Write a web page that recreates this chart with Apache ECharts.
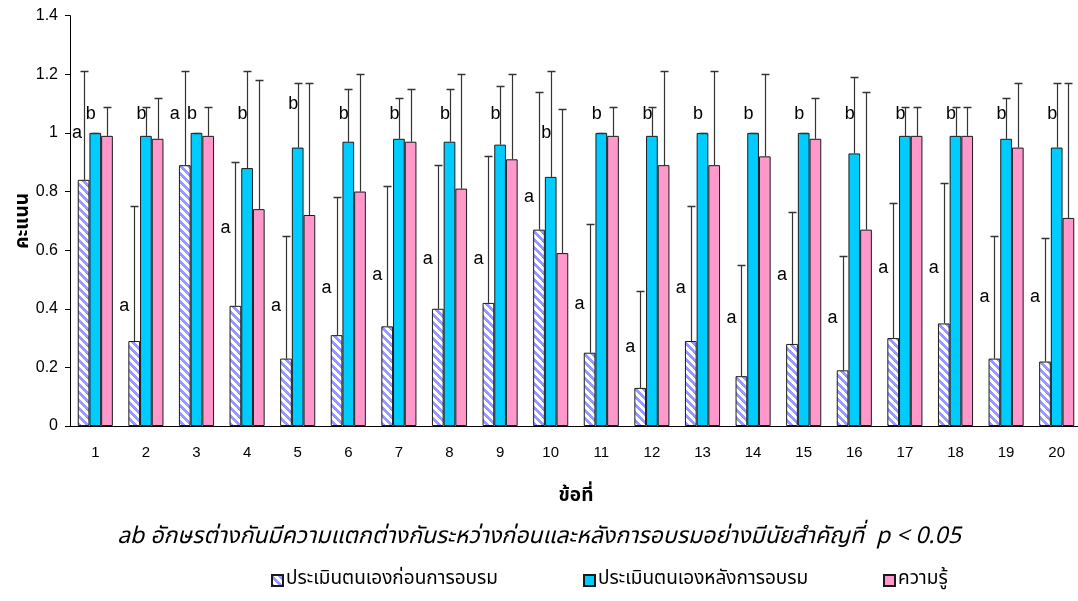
<!DOCTYPE html>
<html>
<head>
<meta charset="utf-8">
<script src="https://cdn.jsdelivr.net/npm/echarts@6/dist/echarts.min.js"></script>
<style>
  html, body { margin: 0; padding: 0; background: #ffffff; }
  #chart { width: 1078px; height: 601px; }
</style>
</head>
<body>
<div id="chart"></div>
<script>
// Items (x axis)
const categories = ['1','2','3','4','5','6','7','8','9','10','11','12','13','14','15','16','17','18','19','20'];

// Self-assessment before training: mean and SD
const beforeMean = [0.84,0.29,0.89,0.41,0.23,0.31,0.34,0.40,0.42,0.67,0.25,0.13,0.29,0.17,0.28,0.19,0.30,0.35,0.23,0.22];
const beforeSD   = [0.37,0.46,0.32,0.49,0.42,0.47,0.48,0.49,0.50,0.47,0.44,0.33,0.46,0.38,0.45,0.39,0.46,0.48,0.42,0.42];

// Self-assessment after training: mean and SD
const afterMean = [1.00,0.99,1.00,0.88,0.95,0.97,0.98,0.97,0.96,0.85,1.00,0.99,1.00,1.00,1.00,0.93,0.99,0.99,0.98,0.95];
const afterSD   = [0.00,0.10,0.00,0.33,0.22,0.18,0.14,0.18,0.20,0.36,0.00,0.10,0.00,0.00,0.00,0.26,0.10,0.10,0.14,0.22];

// Knowledge score: mean and SD
const knowMean = [0.99,0.98,0.99,0.74,0.72,0.80,0.97,0.81,0.91,0.59,0.99,0.89,0.89,0.92,0.98,0.67,0.99,0.99,0.95,0.71];
const knowSD   = [0.10,0.14,0.10,0.44,0.45,0.40,0.18,0.39,0.29,0.49,0.10,0.32,0.32,0.28,0.14,0.47,0.10,0.10,0.22,0.46];

// Significance letters and the score level each letter sits at
const letterA = 'a';
const letterB = 'b';
const letterAAt = [1.00,0.41,1.065,0.675,0.41,0.47,0.515,0.57,0.57,0.78,0.415,0.27,0.47,0.37,0.515,0.37,0.54,0.54,0.44,0.44];
const letterBAt = [1.065,1.065,1.065,1.065,1.10,1.065,1.065,1.065,1.065,1.00,1.065,1.065,1.065,1.065,1.065,1.065,1.065,1.065,1.065,1.065];

// Y axis ticks
const yMin = 0, yMax = 1.4, yStep = 0.2;

const seriesNames = ['ประเมินตนเองก่อนการอบรม', 'ประเมินตนเองหลังการอบรม', 'ความรู้'];
const xTitle = 'ข้อที่';
const yTitle = 'คะแนน';
const note = 'ab อักษรต่างกันมีความแตกต่างกันระหว่างก่อนและหลังการอบรมอย่างมีนัยสำคัญที่  p < 0.05';

const THAI = '"Noto Sans Thai", "Noto Sans Thai UI", Loma, Garuda, "Tlwg Typo", "Liberation Sans", sans-serif';
const LATIN = '"Liberation Sans", Arial, sans-serif';

const BAR_W = 11.7;
const CYAN = '#00CCFF';
const PINK = '#FF99CC';
const EDGE = '#1a1a1a';
const ERR = '#333333';

// Diagonal hatch (white ground, lavender-blue stripes running down to the right)
function hatchPattern() {
  const n = 8;
  const c = document.createElement('canvas');
  c.width = n; c.height = n;
  const g = c.getContext('2d');
  const img = g.createImageData(n, n);
  for (let y = 0; y < n; y++) {
    for (let x = 0; x < n; x++) {
      const d = ((y - x) % n + n) % n;
      const on = d < 4;
      const k = (y * n + x) * 4;
      img.data[k]     = on ? 0x99 : 0xff;
      img.data[k + 1] = on ? 0x99 : 0xff;
      img.data[k + 2] = 0xff;
      img.data[k + 3] = 255;
    }
  }
  g.putImageData(img, 0, 0);
  return c;
}
const HATCH = { image: hatchPattern(), repeat: 'repeat' };

// Error bars drawn upward from each bar top (mean + SD) with a cap
function errorSeries(means, sds, slot) {
  const data = means.map((m, i) => [i, m, m + sds[i]]);
  return {
    type: 'custom',
    silent: true,
    z: 5,
    data: data,
    renderItem: function (params, api) {
      const c = api.coord([api.value(0), api.value(1)]);
      const top = api.coord([api.value(0), api.value(2)]);
      const x = Math.round(c[0] + slot * BAR_W) + 0.5;
      const y0 = c[1], y1 = Math.round(top[1]) + 0.5;
      const cap = 4;
      return {
        type: 'group',
        children: [
          { type: 'line', shape: { x1: x, y1: y0, x2: x, y2: y1 }, style: { stroke: ERR, lineWidth: 1.2 } },
          { type: 'line', shape: { x1: x - cap, y1: y1, x2: x + cap, y2: y1 }, style: { stroke: ERR, lineWidth: 1.5 } }
        ]
      };
    }
  };
}

// Letters placed just left of the error bar of the before / after bars
const letterSeries = {
  type: 'custom',
  silent: true,
  z: 6,
  data: categories.map((c, i) => [i, letterAAt[i], letterBAt[i]]),
  renderItem: function (params, api) {
    const pa = api.coord([api.value(0), api.value(1)]);
    const pb = api.coord([api.value(0), api.value(2)]);
    // keep the first letter clear of the value axis line
    const xa = Math.max(pa[0] - BAR_W - 5, 82);
    const xb = pb[0] + 0.5;
    const st = { fill: '#000', font: '18px ' + LATIN, align: 'right', verticalAlign: 'middle' };
    return {
      type: 'group',
      children: [
        { type: 'text', x: xa, y: pa[1], style: Object.assign({ text: letterA }, st) },
        { type: 'text', x: xb, y: pb[1], style: Object.assign({ text: letterB }, st) }
      ]
    };
  }
};

function barSeries(name, values, color) {
  return {
    name: name,
    type: 'bar',
    data: values,
    barWidth: BAR_W,
    barGap: '0%',
    itemStyle: { color: color, borderColor: EDGE, borderWidth: 1 },
    emphasis: { disabled: true }
  };
}

function legendAt(name, left) {
  return {
    data: [name],
    left: left,
    top: 566,
    icon: 'rect',
    itemWidth: 11,
    itemHeight: 11,
    itemGap: 0,
    selectedMode: false,
    textStyle: { fontFamily: THAI, fontSize: 19, color: '#000', padding: [0, 0, 0, -2] }
  };
}

const chart = echarts.init(document.getElementById('chart'), null, { renderer: 'canvas' });
chart.setOption({
  animation: false,
  backgroundColor: '#ffffff',
  title: {
    text: note,
    left: 'center',
    top: 522,
    textStyle: { fontFamily: THAI, fontSize: 23, fontStyle: 'italic', fontWeight: 'normal', color: '#000' }
  },
  legend: [
    legendAt(seriesNames[0], 266),
    legendAt(seriesNames[1], 578),
    legendAt(seriesNames[2], 878)
  ],
  grid: { left: 70, right: -4, top: 15.7, bottom: 175, containLabel: false, outerBoundsMode: 'none' },
  xAxis: {
    type: 'category',
    data: categories,
    name: xTitle,
    nameLocation: 'middle',
    nameGap: 62,
    nameMoveOverlap: false,
    nameTextStyle: { fontFamily: THAI, fontSize: 19, fontWeight: 'bold', color: '#000' },
    axisLine: { lineStyle: { color: '#000', width: 1 } },
    axisTick: { length: 5, lineStyle: { color: '#000' } },
    axisLabel: { margin: 19, fontFamily: LATIN, fontSize: 15, color: '#000' }
  },
  yAxis: {
    type: 'value',
    min: yMin,
    max: yMax,
    interval: yStep,
    name: yTitle,
    nameLocation: 'middle',
    nameRotate: 90,
    nameGap: 36,
    nameMoveOverlap: false,
    nameTextStyle: { fontFamily: THAI, fontSize: 19, fontWeight: 'bold', color: '#000' },
    axisLine: { show: true, lineStyle: { color: '#000', width: 1 } },
    axisTick: { show: true, length: 5, lineStyle: { color: '#000' } },
    splitLine: { show: false },
    axisLabel: { margin: 12, fontFamily: LATIN, fontSize: 16, color: '#000' }
  },
  series: [
    barSeries(seriesNames[0], beforeMean, HATCH),
    barSeries(seriesNames[1], afterMean, CYAN),
    barSeries(seriesNames[2], knowMean, PINK),
    errorSeries(beforeMean, beforeSD, -1),
    errorSeries(afterMean, afterSD, 0),
    errorSeries(knowMean, knowSD, 1),
    letterSeries
  ]
});
</script>
</body>
</html>
